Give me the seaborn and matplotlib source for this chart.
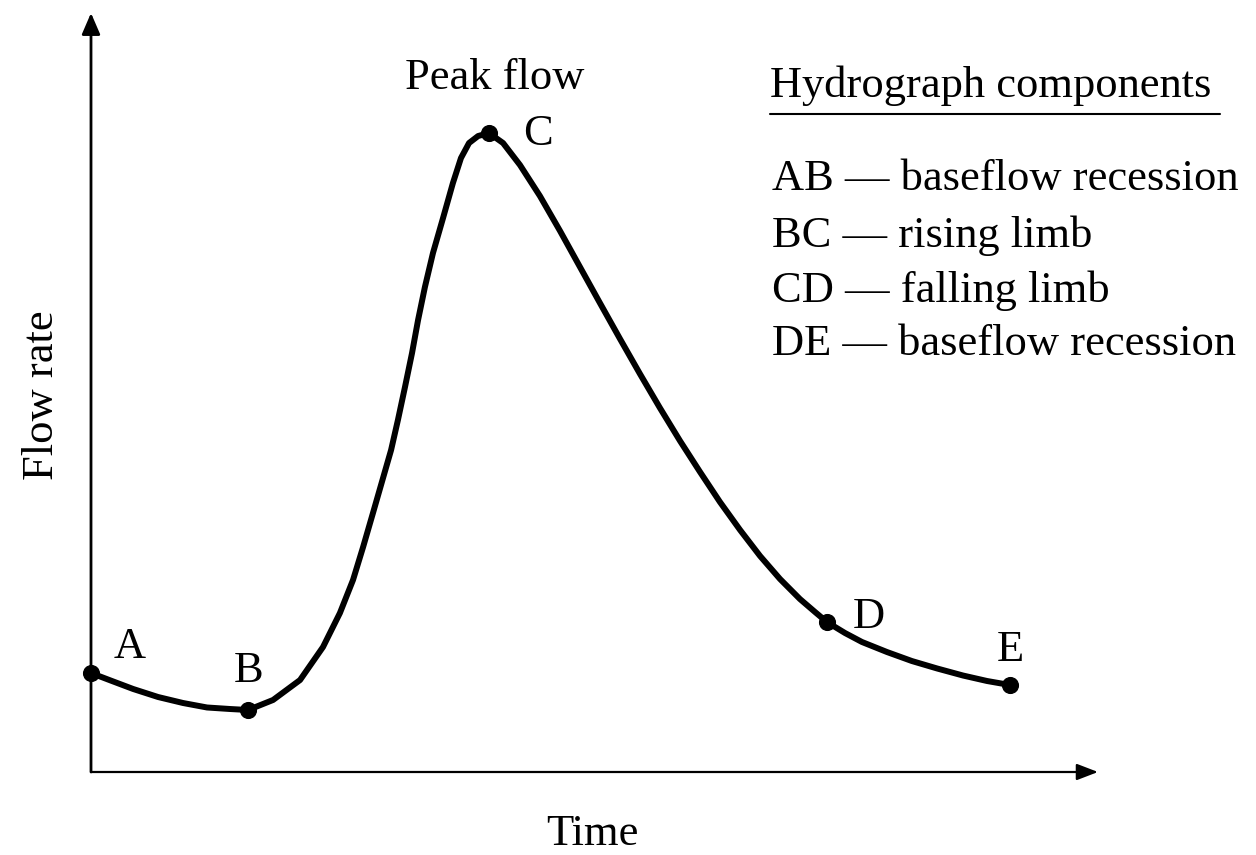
import matplotlib
matplotlib.use('Agg')
import matplotlib.pyplot as plt
from matplotlib.lines import Line2D
import seaborn as sns
import pandas as pd

# hydrograph curve (time in h, flow in arbitrary units)
time_h = [0.00, 1.04, 2.09, 3.33, 4.57, 5.76, 6.90, 7.80,
          9.04, 10.38, 11.52, 12.36, 13.01, 13.51, 14.00, 14.50, 14.90, 15.24,
          15.59, 15.94, 16.24, 16.58, 16.98, 17.48, 17.97, 18.37, 18.77, 19.22,
          19.76,
          20.46, 21.30, 22.29, 23.29, 24.28, 25.27, 26.27, 27.26, 28.25, 29.25,
          30.24, 31.23, 32.23, 33.22, 34.21, 35.20, 35.95, 36.54,
          37.44, 38.28, 39.52, 40.76, 42.01, 43.30, 44.49, 45.63]
flow = [1.304, 1.199, 1.094, 0.988, 0.909, 0.850, 0.830, 0.817,
        0.949, 1.212, 1.647, 2.095, 2.530, 2.964, 3.412, 3.873, 4.242, 4.638,
        5.072, 5.520, 5.955, 6.390, 6.838, 7.299, 7.760, 8.089, 8.287, 8.379,
        8.419,
        8.287, 7.997, 7.589, 7.128, 6.653, 6.179, 5.705, 5.244, 4.796, 4.361,
        3.953, 3.557, 3.188, 2.846, 2.543, 2.279, 2.108, 1.976,
        1.831, 1.713, 1.581, 1.462, 1.364, 1.271, 1.199, 1.146]

# marked points
point_names = ['A', 'B', 'C', 'D', 'E']
point_time = [0.00, 7.80, 19.76, 36.54, 45.63]
point_flow = [1.304, 0.817, 8.419, 1.976, 1.146]

components_title = 'Hydrograph components'
components = ['AB \u2014 baseflow recession',
              'BC \u2014 rising limb',
              'CD \u2014 falling limb',
              'DE \u2014 baseflow recession']

curve = pd.DataFrame({'time': time_h, 'flow': flow})
points = pd.DataFrame({'name': point_names, 'time': point_time, 'flow': point_flow})

sns.set_theme(style='white')
plt.rcParams['font.family'] = ['Liberation Serif', 'DejaVu Serif']
plt.rcParams['text.color'] = 'black'
FS = 32

W, H = 1256, 855
fig = plt.figure(figsize=(W / 100, H / 100), dpi=100)
fig.patch.set_facecolor('white')

# axes box runs from the origin to the arrow tips
ax = fig.add_axes([91 / W, (H - 772) / H, (1098 - 91) / W, (772 - 13) / H])
ax.patch.set_visible(False)

sns.lineplot(data=curve, x='time', y='flow', sort=False, estimator=None,
             color='black', lw=4.3, ax=ax, clip_on=False)
sns.scatterplot(data=points, x='time', y='flow', s=130, color='black',
                edgecolor='black', ax=ax, zorder=3, clip_on=False)

ax.set_xlim(0, 50)
ax.set_ylim(0, 10)
ax.set_xticks([])
ax.set_yticks([])
ax.set_xlabel('')
ax.set_ylabel('')
sns.despine(ax=ax, left=True, bottom=True)

# axis arrows
ax.annotate('', xy=(1, 0), xytext=(0, 0), xycoords='axes fraction',
            arrowprops=dict(arrowstyle='-|>,head_length=0.65,head_width=0.25',
                            lw=1.6, color='black', shrinkA=0, shrinkB=0,
                            mutation_scale=20))
ax.annotate('', xy=(0, 1), xytext=(0, 0), xycoords='axes fraction',
            arrowprops=dict(arrowstyle='-|>,head_length=0.65,head_width=0.28',
                            lw=2.0, color='black', shrinkA=0, shrinkB=0,
                            mutation_scale=20))

# point labels (offsets in points from each dot)
label_offsets = {'A': (28, 11), 'B': (0, 20), 'C': (35, -9), 'D': (30, -4), 'E': (0, 17)}
for name, t, q in zip(point_names, point_time, point_flow):
    ax.annotate(name, xy=(t, q), xytext=label_offsets[name], textcoords='offset points',
                ha='center', va='baseline', fontsize=FS)

ax.annotate('Peak flow', xy=(point_time[2], point_flow[2]), xytext=(4, 32),
            textcoords='offset points', ha='center', va='baseline', fontsize=FS)

# axis titles
fig.text(592 / W, 1 - 845 / H, 'Time', ha='center', va='baseline', fontsize=FS)
fig.text(42 / W, 1 - 395 / H, 'Flow rate', ha='center', va='center',
         rotation=90, fontsize=FS)

# components block on the right
fig.text(770 / W, 1 - 97 / H, components_title, ha='left', va='baseline', fontsize=FS)
fig.add_artist(Line2D([770 / W, 1220 / W], [1 - 114 / H] * 2, lw=1.5,
                      color='black', transform=fig.transFigure))
baselines = [190, 247, 302, 355]
for txt, yb in zip(components, baselines):
    fig.text(772 / W, 1 - yb / H, txt, ha='left', va='baseline', fontsize=FS)

fig.savefig('out.png', dpi=100, facecolor='white')
